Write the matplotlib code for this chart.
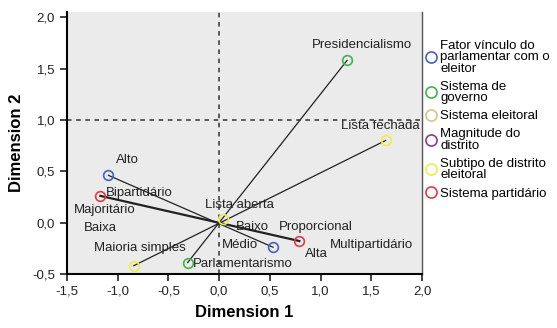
import matplotlib.pyplot as plt
from matplotlib.lines import Line2D
from matplotlib.ticker import FuncFormatter

plt.rcParams['font.family'] = ['Liberation Sans', 'DejaVu Sans']

# pontos visiveis (marcadores)
point_names = ['Presidencialismo', 'Parlamentarismo', 'Lista fechada', 'Maioria simples',
               'Lista aberta', 'Alto', 'Médio', 'Bipartidário', 'Multipartidário']
point_x = [1.26, -0.31, 1.64, -0.84, 0.04, -1.09, 0.53, -1.17, 0.79]
point_y = [1.58, -0.39, 0.80, -0.42, 0.03, 0.46, -0.24, 0.26, -0.18]
point_group = [1, 1, 4, 4, 4, 0, 0, 5, 5]

# segmentos entre categorias opostas
line_pairs = [(0, 1), (2, 3), (5, 6), (7, 8)]
line_widths = [0.9, 0.9, 0.9, 1.6]

# rotulos
label_names = ['Presidencialismo', 'Lista fechada', 'Alto', 'Bipartidário', 'Majoritário',
               'Baixa', 'Maioria simples', 'Parlamentarismo', 'Lista aberta', 'Baixo',
               'Proporcional', 'Médio', 'Alta', 'Multipartidário']
label_x = [1.41, 1.59, -0.90, -0.79, -1.13, -1.17, -0.78, 0.23, 0.20, 0.33, 0.95, 0.20, 0.96, 1.50]
label_y = [1.73, 0.94, 0.61, 0.29, 0.12, -0.05, -0.25, -0.40, 0.17, -0.04, -0.04, -0.22, -0.31, -0.22]

groups = ['Fator vínculo do\nparlamentar com o\neleitor', 'Sistema de\ngoverno', 'Sistema eleitoral',
          'Magnitude do\ndistrito', 'Subtipo de distrito\neleitoral', 'Sistema partidário']
group_colors = ['#4a5fc1', '#3fb44a', '#cfc98a', '#8a3a8e', '#f0ec48', '#e23a43']

fig = plt.figure(figsize=(5.57, 3.28), dpi=100)
ax = fig.add_axes([0.120, 0.165, 0.638, 0.798])
ax.set_facecolor('#ebebeb')

ax.set_xlim(-1.5, 2.0)
ax.set_ylim(-0.5, 2.05)

ax.axvline(0, color='#333333', linestyle=(0, (3, 3)), linewidth=1.1, zorder=1)
ax.axhline(1.0, color='#333333', linestyle=(0, (3, 3)), linewidth=1.1, zorder=1)

for (a, b), lw in zip(line_pairs, line_widths):
    ax.plot([point_x[a], point_x[b]], [point_y[a], point_y[b]], color='#222222', linewidth=lw, zorder=2)

for x, y, g in zip(point_x, point_y, point_group):
    ax.plot(x, y, 'o', markersize=7, markerfacecolor='none', markeredgecolor=group_colors[g],
            markeredgewidth=1.2, zorder=3)

for name, x, y in zip(label_names, label_x, label_y):
    ax.text(x, y, name, fontsize=9.5, ha='center', va='center', color='#222222', zorder=4)

ax.set_xticks([-1.5, -1.0, -0.5, 0.0, 0.5, 1.0, 1.5, 2.0])
ax.set_yticks([-0.5, 0.0, 0.5, 1.0, 1.5, 2.0])
fmt = FuncFormatter(lambda v, p: f'{v:.1f}'.replace('.', ','))
ax.xaxis.set_major_formatter(fmt)
ax.yaxis.set_major_formatter(fmt)
ax.tick_params(direction='out', length=5, width=1.2, labelsize=9.5, colors='#222222')

ax.spines['top'].set_visible(False)
ax.spines['left'].set_linewidth(1.5)
ax.spines['bottom'].set_linewidth(1.5)
ax.spines['right'].set_color('#555555')
ax.spines['right'].set_linewidth(1.0)

ax.set_xlabel('Dimension 1', fontsize=12, fontweight='bold', labelpad=5)
ax.set_ylabel('Dimension 2', fontsize=12, fontweight='bold', labelpad=6)

handles = [Line2D([], [], marker='o', linestyle='none', markersize=8, markerfacecolor='none',
                  markeredgecolor=c, markeredgewidth=1.2) for c in group_colors]
leg = ax.legend(handles, groups, loc='upper left', bbox_to_anchor=(1.0, 0.905), frameon=False,
                fontsize=9.5, handlelength=0.9, handletextpad=0.25, labelspacing=0.45,
                borderaxespad=0.1, borderpad=0.1)
for t in leg.get_texts():
    t.set_linespacing(0.95)

fig.savefig('out.png', dpi=100)
